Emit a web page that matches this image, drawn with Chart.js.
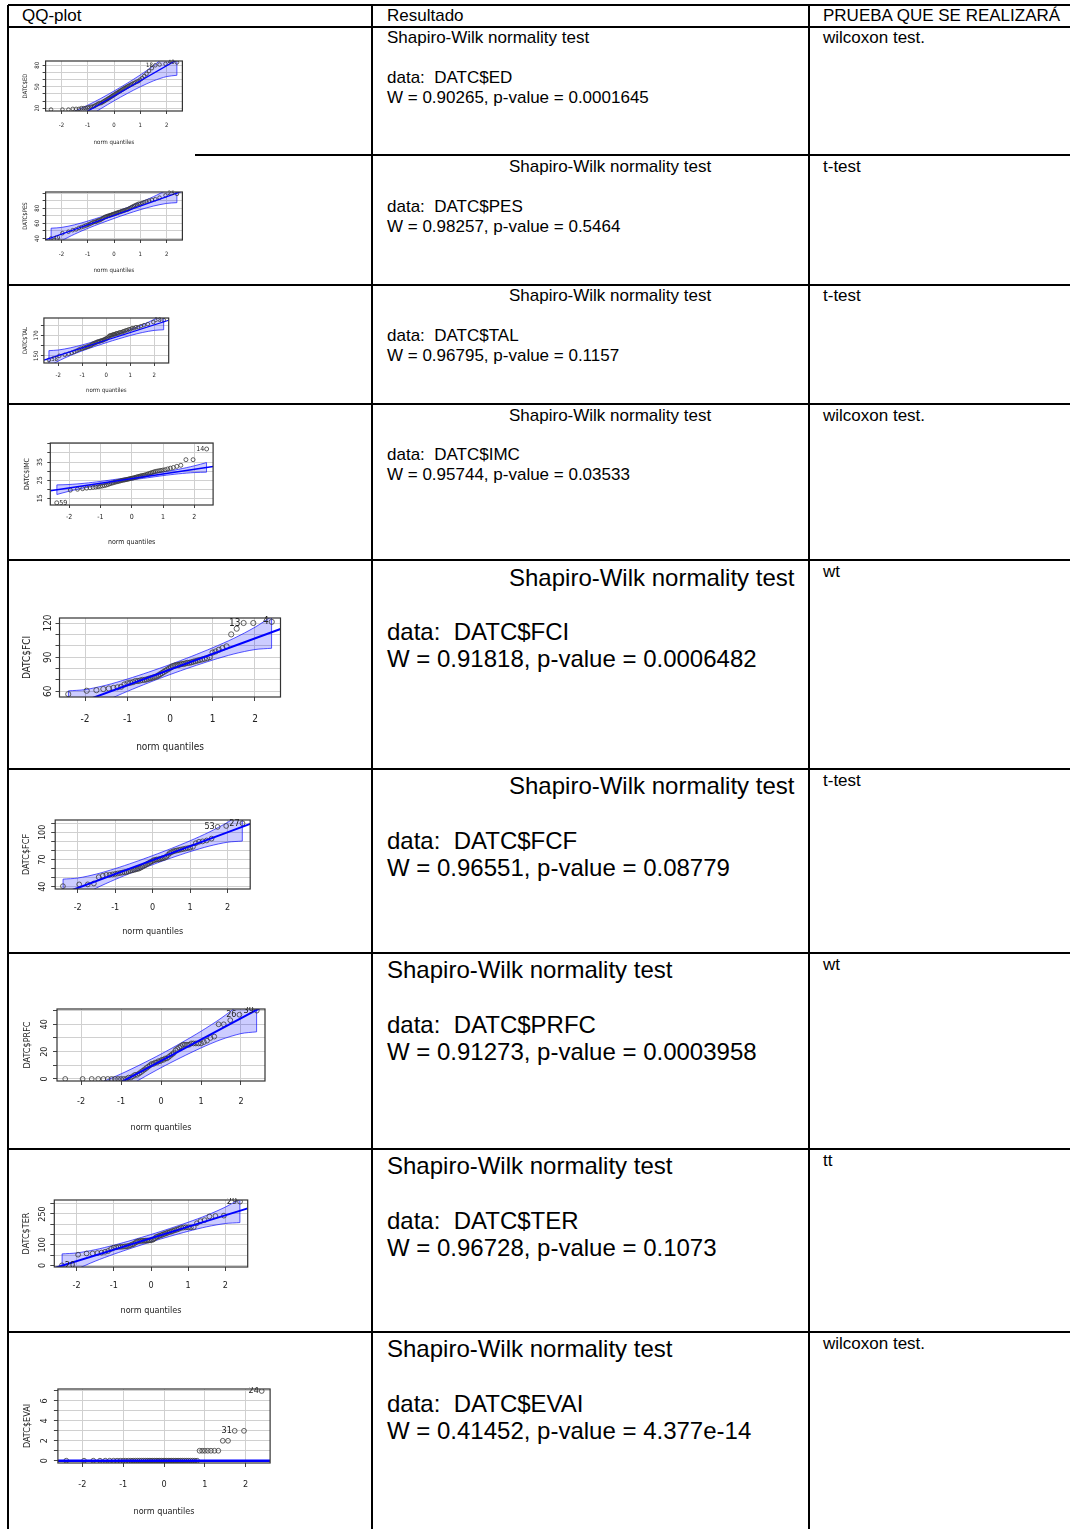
<!DOCTYPE html>
<html><head><meta charset="utf-8">
<script src="https://cdn.jsdelivr.net/npm/chart.js@4.4.1/dist/chart.umd.min.js"></script>
<style>
html,body{margin:0;padding:0;background:#fff;}
body{width:1070px;height:1529px;position:relative;overflow:hidden;font-family:'Liberation Sans',Arial,sans-serif;color:#000;}
.hl{position:absolute;background:#000;height:2px;}
.vl{position:absolute;background:#000;width:2px;}
.t{position:absolute;white-space:pre;font-size:17px;line-height:20px;}
.b{position:absolute;white-space:pre;font-size:24px;line-height:27px;}
canvas{position:absolute;}
</style></head><body>
<script>
// ---------------- DATA ----------------
const normQuantiles = [-2.394,-1.960,-1.732,-1.569,-1.440,-1.331,-1.235,-1.150,-1.073,-1.001,-0.935,-0.872,-0.812,-0.755,-0.701,-0.649,-0.598,-0.549,-0.501,-0.454,-0.408,-0.363,-0.319,-0.275,-0.232,-0.189,-0.147,-0.105,-0.063,-0.021,0.021,0.063,0.105,0.147,0.189,0.232,0.275,0.319,0.363,0.408,0.454,0.501,0.549,0.598,0.649,0.701,0.755,0.812,0.872,0.935,1.001,1.073,1.150,1.235,1.331,1.440,1.569,1.732,1.960,2.394];
const xTicks = [-2,-1,0,1,2];
const xRange = [-2.6,2.6];
const lineX = [-2.6,2.6];
const bandX = [-2.39,-2,-1.5,-1,-0.5,0,0.5,1,1.5,2,2.39];

const edValues = [18,18,18,19,19,19,20,20,20,21,21,22,22,23,24,25,26,27,27,28,29,30,31,32,33,34,35,36,37,38,39,40,41,42,43,44,45,46,47,48,49,50,51,52,53,54,55,56,57,58,60,62,65,68,72,76,80,81,82,84];
const edLineY = [-18.1,92.1];
const edBandUpper = [8.0,9.8,15.8,24.1,33.6,43.9,54.8,66.5,79.4,94.6,109.4];
const edBandLower = [-35.4,-20.6,-5.4,7.5,19.2,30.2,40.4,49.9,58.2,64.2,66.0];
const edYRange = [16,86];
const edYTicks = [20,30,40,50,60,70,80];
const edYLabels = [20,50,80];
const edPointLabels = [[56,'18'],[59,'40']];

const pesValues = [40,47,49,51,52,54,55,56,57,58,59,60,61,62,62,63,64,64,65,66,67,68,69,69,70,70,71,71,72,72,73,73,74,74,75,75,76,76,77,77,78,78,79,80,81,82,83,84,85,86,86,87,88,89,90,91,92,94,97,99];
const pesLineY = [38.3,102.7];
const pesBandUpper = [53.6,54.6,58.1,63.0,68.5,74.5,80.9,87.8,95.3,104.2,112.8];
const pesBandLower = [28.2,36.8,45.7,53.3,60.1,66.5,72.5,78.1,82.9,86.4,87.4];
const pesYRange = [38,101.5];
const pesYTicks = [40,50,60,70,80,90,100];
const pesYLabels = [40,60,80];
const pesPointLabels = [[0,'49'],[59,'25']];

const talValues = [146,150,151,152,153,154,155,156,157,157,158,158,159,159,160,160,161,162,162,163,163,164,164,164,165,165,165,166,166,167,167,168,169,170,170,170,171,171,171,172,172,172,173,173,173,174,174,175,175,176,176,177,177,178,178,179,180,181,183,185];
const talLineY = [145.8,184.8];
const talBandUpper = [155.1,155.7,157.8,160.7,164.1,167.7,171.6,175.7,180.3,185.7,190.9];
const talBandLower = [139.7,144.9,150.3,154.9,159.0,162.9,166.5,169.9,172.8,174.9,175.5];
const talYRange = [143,187];
const talYTicks = [150,160,170,180];
const talYLabels = [150,170];
const talPointLabels = [[0,'58'],[59,'38']];

const imcValues = [12.5,19.5,20,20.3,20.6,20.8,21,21.2,21.4,21.6,21.8,22,22.3,22.6,23,23.3,23.5,23.8,24,24.2,24.4,24.6,24.8,25,25.1,25.3,25.4,25.6,25.8,26,26.1,26.3,26.5,26.7,26.9,27.1,27.3,27.5,27.6,27.8,28,28.3,28.6,28.9,29.2,29.5,29.8,30,30.2,30.4,30.6,30.8,31.2,31.6,32,32.6,33.2,36.3,36.3,42.2];
const imcLineY = [19.2,32.6];
const imcBandUpper = [22.4,22.6,23.3,24.3,25.5,26.7,28.1,29.5,31.0,32.9,34.7];
const imcBandLower = [17.1,18.9,20.8,22.3,23.8,25.1,26.3,27.5,28.5,29.2,29.4];
const imcYRange = [11.3,45.5];
const imcYTicks = [15,20,25,30,35,40,45];
const imcYLabels = [15,25,35];
const imcPointLabels = [[0,'59'],[59,'14']];

const fciValues = [57.5,60.5,61,62,62.5,63,63.5,64,66,67,67.5,68,69,69,69.5,70,70,70.5,71,71.5,72,72.5,73,74,75,76,77,78,79,80,81,82,82.5,83,83,83.5,84,84,84.5,85,85,85.5,86,86.5,87,87.5,88,88.5,89,90,94,95,96.5,98,99.5,110,115,120,120,121];
const fciLineY = [43.5,114.7];
const fciBandUpper = [60.4,61.5,65.4,70.8,76.9,83.5,90.6,98.2,106.5,116.3,125.8];
const fciBandLower = [32.4,41.9,51.7,60.0,67.6,74.7,81.3,87.4,92.8,96.7,97.8];
const fciYRange = [55,124.4];
const fciYTicks = [60,70,80,90,100,110,120];
const fciYLabels = [60,90,120];
const fciPointLabels = [[57,'13'],[59,'4']];

const fcfValues = [40.5,42.5,42.5,43.5,50.5,52,53,53,53.5,54,54.5,55,55.5,56,56,57,57.5,58,58.5,59,59.5,60,61,62,63,64,65,66,67,68,69,69.5,70,70,70.5,71,71.5,72,73,75,77,78,79,79.5,80,80.5,81,81.5,82,82.5,83,84,88,89.5,90,91,93,106,107,110];
const fcfLineY = [29.3,109.3];
const fcfBandUpper = [48.3,49.5,53.9,59.9,66.8,74.3,82.2,90.7,100.1,111.1,121.9];
const fcfBandLower = [16.7,27.5,38.5,47.9,56.4,64.3,71.8,78.7,84.7,89.1,90.3];
const fcfYRange = [37.4,113.6];
const fcfYTicks = [40,50,60,70,80,90,100,110];
const fcfYLabels = [40,70,100];
const fcfPointLabels = [[57,'53'],[59,'27']];

const prfcValues = [0,0,0,0,0,0,0,0,0,0,0,0,1,1,2,3,3,4,5,6,7,8,9,10,11,11,12,12,13,13,14,14,15,15,16,17,18,19,21,22,23,24,25,25,25,25,26,26,26,26,26,27,28,30,31,40,40,43,47,50];
const prfcLineY = [-27.4,53.8];
const prfcBandUpper = [-8.1,-6.8,-2.4,3.7,10.7,18.2,26.3,34.9,44.4,55.6,66.5];
const prfcBandLower = [-40.1,-29.2,-18,-8.5,0.1,8.2,15.7,22.7,28.8,33.2,34.5];
const prfcYRange = [-1.5,51.2];
const prfcYTicks = [0,10,20,30,40,50];
const prfcYLabels = [0,20,40];
const prfcPointLabels = [[58,'26'],[59,'39']];

const terValues = [0,52,58,58,60,62,66,70,80,86,88,90,90,91,92,93,95,98,102,105,112,116,118,119,119,120,120,121,121,122,123,126,132,138,141,144,147,150,153,156,159,162,165,168,171,174,178,182,184,185,185,185,186,205,215,220,238,240,242,310];
const terLineY = [-13.1,277.1];
const terBandUpper = [55.8,60.4,76.2,98.1,123.1,150,178.9,209.7,243.6,283.6,322.6];
const terBandLower = [-58.6,-19.6,20.4,54.3,85.1,114,140.9,165.9,187.8,203.6,208.2];
const terYRange = [-8,318];
const terYTicks = [0,50,100,150,200,250,300];
const terYLabels = [0,100,250];
const terPointLabels = [[0,'20'],[59,'29']];

const evaiValues = [0,0,0,0,0,0,0,0,0,0,0,0,0,0,0,0,0,0,0,0,0,0,0,0,0,0,0,0,0,0,0,0,0,0,0,0,0,0,0,0,0,0,0,0,0,0,0,0,1,1,1,1,1,1,1,2,2,3,3,7];
const evaiLineY = [0,0];
const evaiBandUpper = [0,0,0,0,0,0,0,0,0,0,0];
const evaiBandLower = [0,0,0,0,0,0,0,0,0,0,0];
const evaiYRange = [-0.23,7.2];
const evaiYTicks = [0,1,2,3,4,5,6,7];
const evaiYLabels = [0,2,4,6];
const evaiPointLabels = [[57,'31'],[59,'24']];

const varNames = ['DATC$ED','DATC$PES','DATC$TAL','DATC$IMC','DATC$FCI','DATC$FCF','DATC$PRFC','DATC$TER','DATC$EVAI'];
const wStats = ['0.90265','0.98257','0.96795','0.95744','0.91818','0.96551','0.91273','0.96728','0.41452'];
const pValues = ['0.0001645','0.5464','0.1157','0.03533','0.0006482','0.08779','0.0003958','0.1073','4.377e-14'];
const testNames = ['wilcoxon test.','t-test','t-test','wilcoxon test.','wt','t-test','wt','tt','wilcoxon test.'];
const headers = ['QQ-plot','Resultado','PRUEBA QUE SE REALIZARÁ'];

// ---------------- LAYOUT / STYLE ----------------
const FAM = "'Liberation Sans Narrow','DejaVu Sans Condensed','Liberation Sans',Arial,sans-serif";
const hLines = [[5,8,1070],[27,8,1070],[155,195,1070],[285,8,1070],[404,8,1070],[560,8,1070],[769,8,1070],[953,8,1070],[1149,8,1070],[1332,8,1070]];
const vLines = [[8,5,1529],[372,5,1529],[809,5,1529]];
const rowText = [
  [387,38,78,false],[509,167,207,false],[509,296,336,false],[509,416,455,false],
  [509,577,631,true],[509,785,840,true],[387,969,1024,true],[387,1165,1220,true],[387,1348,1403,true]
];
const col3Y = [38,167,296,416,572,781,965,1161,1344];
const plotGeo = [
  {l:45.6,r:182.4,t:61,b:111,ytx:37,ytt:25,xty:125,xtt:142,fs:6,pr:1.8,lw:1.3},
  {l:45.6,r:182.4,t:192,b:240,ytx:37,ytt:25,xty:254,xtt:270,fs:6,pr:1.8,lw:1.3},
  {l:43.9,r:168.7,t:318,b:363,ytx:36,ytt:25,xty:375,xtt:390,fs:6,pr:1.8,lw:1.3},
  {l:50.3,r:213.1,t:443,b:505,ytx:40,ytt:27,xty:517,xtt:542,fs:7,pr:2,lw:1.5},
  {l:59.5,r:280.5,t:618,b:697,ytx:48,ytt:27,xty:719,xtt:747,fs:10,pr:2.6,lw:2},
  {l:55.2,r:250.2,t:820,b:889,ytx:43,ytt:27,xty:908,xtt:932,fs:9,pr:2.4,lw:2},
  {l:57,r:265,t:1009,b:1081,ytx:45,ytt:28,xty:1102,xtt:1128,fs:9,pr:2.4,lw:2},
  {l:54.3,r:247.7,t:1200,b:1267,ytx:43,ytt:27,xty:1286,xtt:1311,fs:9,pr:2.4,lw:2},
  {l:57.9,r:270.1,t:1389,b:1463,ytx:45,ytt:28,xty:1485,xtt:1512,fs:9,pr:2.4,lw:2.6}
];

// ---------------- TABLE ----------------
function addDiv(cls, x, y, txt, extra){const d=document.createElement('div');d.className=cls;d.style.left=x+'px';d.style.top=y+'px';if(extra)Object.assign(d.style,extra);if(txt!==undefined)d.textContent=txt;document.body.appendChild(d);return d;}
hLines.forEach(([y,x1,x2])=>addDiv('hl',x1,y-1,undefined,{width:(x2-x1)+'px'}));
vLines.forEach(([x,y1,y2])=>addDiv('vl',x-1,y1,undefined,{height:(y2-y1)+'px'}));
addDiv('t',22,6,headers[0]);addDiv('t',387,6,headers[1]);addDiv('t',823,6,headers[2]);
rowText.forEach(([hx,hy,by,big],i)=>{
  const cls = big?'b':'t', lh = big?27:20;
  addDiv(cls,hx,hy-lh/2,'Shapiro-Wilk normality test');
  addDiv(cls,387,by-lh/2,'data:  '+varNames[i]+'\nW = '+wStats[i]+', p-value = '+pValues[i]);
  addDiv('t',823,col3Y[i]-10,testNames[i]);
});

// ---------------- PLOTS ----------------
const plotSpecs = [
  [edValues,edLineY,edBandUpper,edBandLower,edYRange,edYTicks,edYLabels,edPointLabels],
  [pesValues,pesLineY,pesBandUpper,pesBandLower,pesYRange,pesYTicks,pesYLabels,pesPointLabels],
  [talValues,talLineY,talBandUpper,talBandLower,talYRange,talYTicks,talYLabels,talPointLabels],
  [imcValues,imcLineY,imcBandUpper,imcBandLower,imcYRange,imcYTicks,imcYLabels,imcPointLabels],
  [fciValues,fciLineY,fciBandUpper,fciBandLower,fciYRange,fciYTicks,fciYLabels,fciPointLabels],
  [fcfValues,fcfLineY,fcfBandUpper,fcfBandLower,fcfYRange,fcfYTicks,fcfYLabels,fcfPointLabels],
  [prfcValues,prfcLineY,prfcBandUpper,prfcBandLower,prfcYRange,prfcYTicks,prfcYLabels,prfcPointLabels],
  [terValues,terLineY,terBandUpper,terBandLower,terYRange,terYTicks,terYLabels,terPointLabels],
  [evaiValues,evaiLineY,evaiBandUpper,evaiBandLower,evaiYRange,evaiYTicks,evaiYLabels,evaiPointLabels]
];
const mctx = document.createElement('canvas').getContext('2d');
const BLUE='#0000ff', BAND='rgba(0,0,255,0.2)', BANDLINE='rgba(20,20,255,0.8)';

function buildPlot(k){
  const [vals,lineY,up,lo,yr,yt,yl,pl] = plotSpecs[k];
  const g = plotGeo[k];
  const cl = Math.floor(g.l)-42, ct = Math.floor(g.t)-12;
  const cw = Math.ceil(g.r)+12-cl, ch = Math.ceil(g.xtt+10)-ct;
  const cv = document.createElement('canvas');
  cv.width=cw; cv.height=ch; cv.style.left=cl+'px'; cv.style.top=ct+'px'; cv.style.width=cw+'px'; cv.style.height=ch+'px';
  document.body.appendChild(cv);
  const YW = g.l-cl, padTop = g.t-ct, padRight = cw-(g.r-cl), XH = ch-(g.b-ct);
  const tl = g.fs>=9?4:3, lh = g.fs*1.2;
  mctx.font = g.fs+'px '+FAM;
  const widest = Math.max(...yl.map(v=>mctx.measureText(String(v)).width));
  const yPad = YW - tl - widest/2 - (g.ytx-cl);
  const yTitlePad = (g.ytt-cl) - lh/2;
  const xPad = (g.xty-ct) - (g.b-ct) - tl - lh/2;
  const xTitlePad = ch - lh/2 - (g.xtt-ct);
  const n = bandX.length-1;
  const font = {size:g.fs, family:FAM};
  const deco = {id:'rdeco'+k, afterDatasetsDraw(chart){
    const {ctx, chartArea:a, scales} = chart;
    ctx.save();
    ctx.strokeStyle='#333'; ctx.lineWidth=1.2;
    ctx.strokeRect(a.left,a.top,a.right-a.left,a.bottom-a.top);
    ctx.beginPath(); ctx.rect(a.left,a.top-2,a.right-a.left,a.bottom-a.top+2); ctx.clip();
    ctx.font = g.fs+'px '+FAM; ctx.fillStyle='#222'; ctx.textBaseline='middle';
    pl.forEach(([i,txt])=>{
      const px = scales.x.getPixelForValue(normQuantiles[i]);
      const py = scales.y.getPixelForValue(vals[i]);
      if (normQuantiles[i] < 0){ ctx.textAlign='left'; ctx.fillText(txt, px+g.pr+0.5, py); }
      else { ctx.textAlign='right'; ctx.fillText(txt, px-g.pr-0.5, py); }
    });
    ctx.restore();
  }};
  new Chart(cv, {
    type:'scatter',
    data:{datasets:[
      {data:bandX.map((x,i)=>({x,y:up[i]})), showLine:true, borderColor:BANDLINE, borderWidth:0.9, pointRadius:0, fill:false, tension:0.3, order:3},
      {data:bandX.map((x,i)=>({x,y:lo[i]})), showLine:true, borderColor:BANDLINE, borderWidth:0.9, pointRadius:0, fill:'-1', backgroundColor:BAND, tension:0.3, order:3},
      {data:[{x:bandX[0],y:lo[0]},{x:bandX[0],y:up[0]}], showLine:true, borderColor:BANDLINE, borderWidth:0.9, pointRadius:0, order:3},
      {data:[{x:bandX[n],y:lo[n]},{x:bandX[n],y:up[n]}], showLine:true, borderColor:BANDLINE, borderWidth:0.9, pointRadius:0, order:3},
      {data:normQuantiles.map((q,i)=>({x:q,y:vals[i]})), showLine:false, pointStyle:'circle', pointRadius:g.pr, borderColor:'#3a3a3a', borderWidth:0.8, backgroundColor:'rgba(0,0,0,0)', order:1},
      {data:lineX.map((x,i)=>({x,y:lineY[i]})), showLine:true, borderColor:BLUE, borderWidth:g.lw, pointRadius:0, order:0}
    ]},
    options:{
      responsive:false, animation:false, events:[],
      layout:{padding:{left:0,top:padTop,right:padRight,bottom:0}},
      plugins:{legend:{display:false}, tooltip:{enabled:false}},
      scales:{
        x:{type:'linear', min:xRange[0], max:xRange[1],
          afterBuildTicks:s=>{s.ticks = xTicks.map(v=>({value:v}));},
          afterFit:s=>{s.height = XH;},
          grid:{color:'#d0d0d0', lineWidth:1, tickColor:'#444', tickLength:tl, drawTicks:true},
          border:{display:false},
          ticks:{font, color:'#222', padding:xPad, maxRotation:0, minRotation:0, autoSkip:false, callback:v=>String(v)},
          title:{display:true, text:'norm quantiles', font, color:'#222', padding:{top:0,bottom:xTitlePad}}
        },
        y:{type:'linear', min:yr[0], max:yr[1],
          afterBuildTicks:s=>{s.ticks = yt.map(v=>({value:v}));},
          afterFit:s=>{s.width = YW;},
          grid:{color:'#d0d0d0', lineWidth:1, tickColor:'#444', tickLength:tl, drawTicks:true},
          border:{display:false},
          ticks:{font, color:'#222', padding:yPad, minRotation:90, maxRotation:90, crossAlign:'center', autoSkip:false, callback:v=>yl.includes(v)?String(v):''},
          title:{display:true, text:varNames[k], font, color:'#222', padding:{top:yTitlePad,bottom:0}}
        }
      }
    },
    plugins:[deco]
  });
}
for (let k=0;k<plotSpecs.length;k++) buildPlot(k);
</script>
</body></html>
